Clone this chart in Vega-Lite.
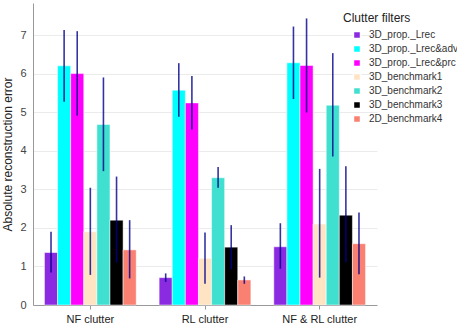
{
  "$schema": "https://vega.github.io/schema/vega-lite/v6.json",
  "autosize": {"type": "none"},
  "width": 344,
  "height": 302,
  "padding": {"left": 33, "top": 3, "right": 80, "bottom": 22},
  "background": "white",
  "config": {
    "font": "Liberation Sans",
    "view": {"stroke": null},
    "axis": {"labelColor": "#444", "titleColor": "#222", "labelFontSize": 11, "domainColor": "#999", "gridColor": "#ebebeb"}
  },
  "data": {"values": [
    {"group": "NF clutter", "filter": "3D_prop._Lrec", "value": 1.36, "lo": 0.84, "hi": 1.90},
    {"group": "NF clutter", "filter": "3D_prop._Lrec&adv", "value": 6.20, "lo": 5.27, "hi": 7.13},
    {"group": "NF clutter", "filter": "3D_prop._Lrec&prc", "value": 6.00, "lo": 4.91, "hi": 7.10},
    {"group": "NF clutter", "filter": "3D_benchmark1", "value": 1.90, "lo": 0.78, "hi": 3.04},
    {"group": "NF clutter", "filter": "3D_benchmark2", "value": 4.68, "lo": 3.47, "hi": 5.90},
    {"group": "NF clutter", "filter": "3D_benchmark3", "value": 2.20, "lo": 1.10, "hi": 3.33},
    {"group": "NF clutter", "filter": "2D_benchmark4", "value": 1.43, "lo": 0.69, "hi": 2.20},
    {"group": "RL clutter", "filter": "3D_prop._Lrec", "value": 0.71, "lo": 0.60, "hi": 0.82},
    {"group": "RL clutter", "filter": "3D_prop._Lrec&adv", "value": 5.57, "lo": 4.88, "hi": 6.27},
    {"group": "RL clutter", "filter": "3D_prop._Lrec&prc", "value": 5.24, "lo": 4.55, "hi": 5.94},
    {"group": "RL clutter", "filter": "3D_benchmark1", "value": 1.21, "lo": 0.55, "hi": 1.88},
    {"group": "RL clutter", "filter": "3D_benchmark2", "value": 3.30, "lo": 3.04, "hi": 3.58},
    {"group": "RL clutter", "filter": "3D_benchmark3", "value": 1.50, "lo": 0.93, "hi": 2.07},
    {"group": "RL clutter", "filter": "2D_benchmark4", "value": 0.65, "lo": 0.55, "hi": 0.74},
    {"group": "NF & RL clutter", "filter": "3D_prop._Lrec", "value": 1.51, "lo": 0.94, "hi": 2.12},
    {"group": "NF & RL clutter", "filter": "3D_prop._Lrec&adv", "value": 6.28, "lo": 5.34, "hi": 7.22},
    {"group": "NF & RL clutter", "filter": "3D_prop._Lrec&prc", "value": 6.21, "lo": 4.99, "hi": 7.43},
    {"group": "NF & RL clutter", "filter": "3D_benchmark1", "value": 2.10, "lo": 0.71, "hi": 3.53},
    {"group": "NF & RL clutter", "filter": "3D_benchmark2", "value": 5.18, "lo": 3.85, "hi": 6.53},
    {"group": "NF & RL clutter", "filter": "3D_benchmark3", "value": 2.33, "lo": 1.10, "hi": 3.60},
    {"group": "NF & RL clutter", "filter": "2D_benchmark4", "value": 1.59, "lo": 0.80, "hi": 2.40}
  ]},
  "encoding": {
    "x": {
      "field": "group", "type": "nominal",
      "sort": ["NF clutter", "RL clutter", "NF & RL clutter"],
      "scale": {"paddingInner": 0.2, "paddingOuter": 0.1},
      "axis": {"title": null, "labelAngle": 0, "labelPadding": 4, "tickSize": 4, "tickColor": "#999", "labelColor": "#222", "labelFontSize": 11}
    },
    "xOffset": {
      "field": "filter", "type": "nominal",
      "sort": ["3D_prop._Lrec", "3D_prop._Lrec&adv", "3D_prop._Lrec&prc", "3D_benchmark1", "3D_benchmark2", "3D_benchmark3", "2D_benchmark4"],
      "scale": {"paddingInner": 0, "paddingOuter": 0}
    }
  },
  "layer": [
    {
      "mark": {"type": "bar", "stroke": "white", "strokeWidth": 0.5},
      "encoding": {
        "y": {
          "field": "value", "type": "quantitative",
          "scale": {"domain": [0, 7.83], "nice": false},
          "axis": {"title": "Absolute reconstruction error", "titleFontSize": 12, "titleFontWeight": "normal", "ticks": false, "labelPadding": 7, "values": [0, 1, 2, 3, 4, 5, 6, 7], "grid": true, "titlePadding": 5}
        },
        "color": {
          "field": "filter", "type": "nominal",
          "sort": ["3D_prop._Lrec", "3D_prop._Lrec&adv", "3D_prop._Lrec&prc", "3D_benchmark1", "3D_benchmark2", "3D_benchmark3", "2D_benchmark4"],
          "scale": {"range": ["#8a2be2", "#00ffff", "#ff00ff", "#ffe4c4", "#40e0d0", "#000000", "#fa8072"]},
          "legend": {
            "title": "Clutter filters", "orient": "none", "legendX": 310, "legendY": 10,
            "titleFontSize": 12, "titleFontWeight": "normal", "titleColor": "#222",
            "labelFontSize": 10, "labelColor": "#333", "symbolType": "square", "symbolSize": 50,
            "rowPadding": 0, "symbolOffset": 9, "labelOffset": 7, "titlePadding": 5, "labelLimit": 120
          }
        }
      }
    },
    {
      "mark": {"type": "rule", "color": "#00008b", "strokeWidth": 1.6, "opacity": 0.8},
      "encoding": {
        "y": {"field": "lo", "type": "quantitative"},
        "y2": {"field": "hi"}
      }
    }
  ]
}
